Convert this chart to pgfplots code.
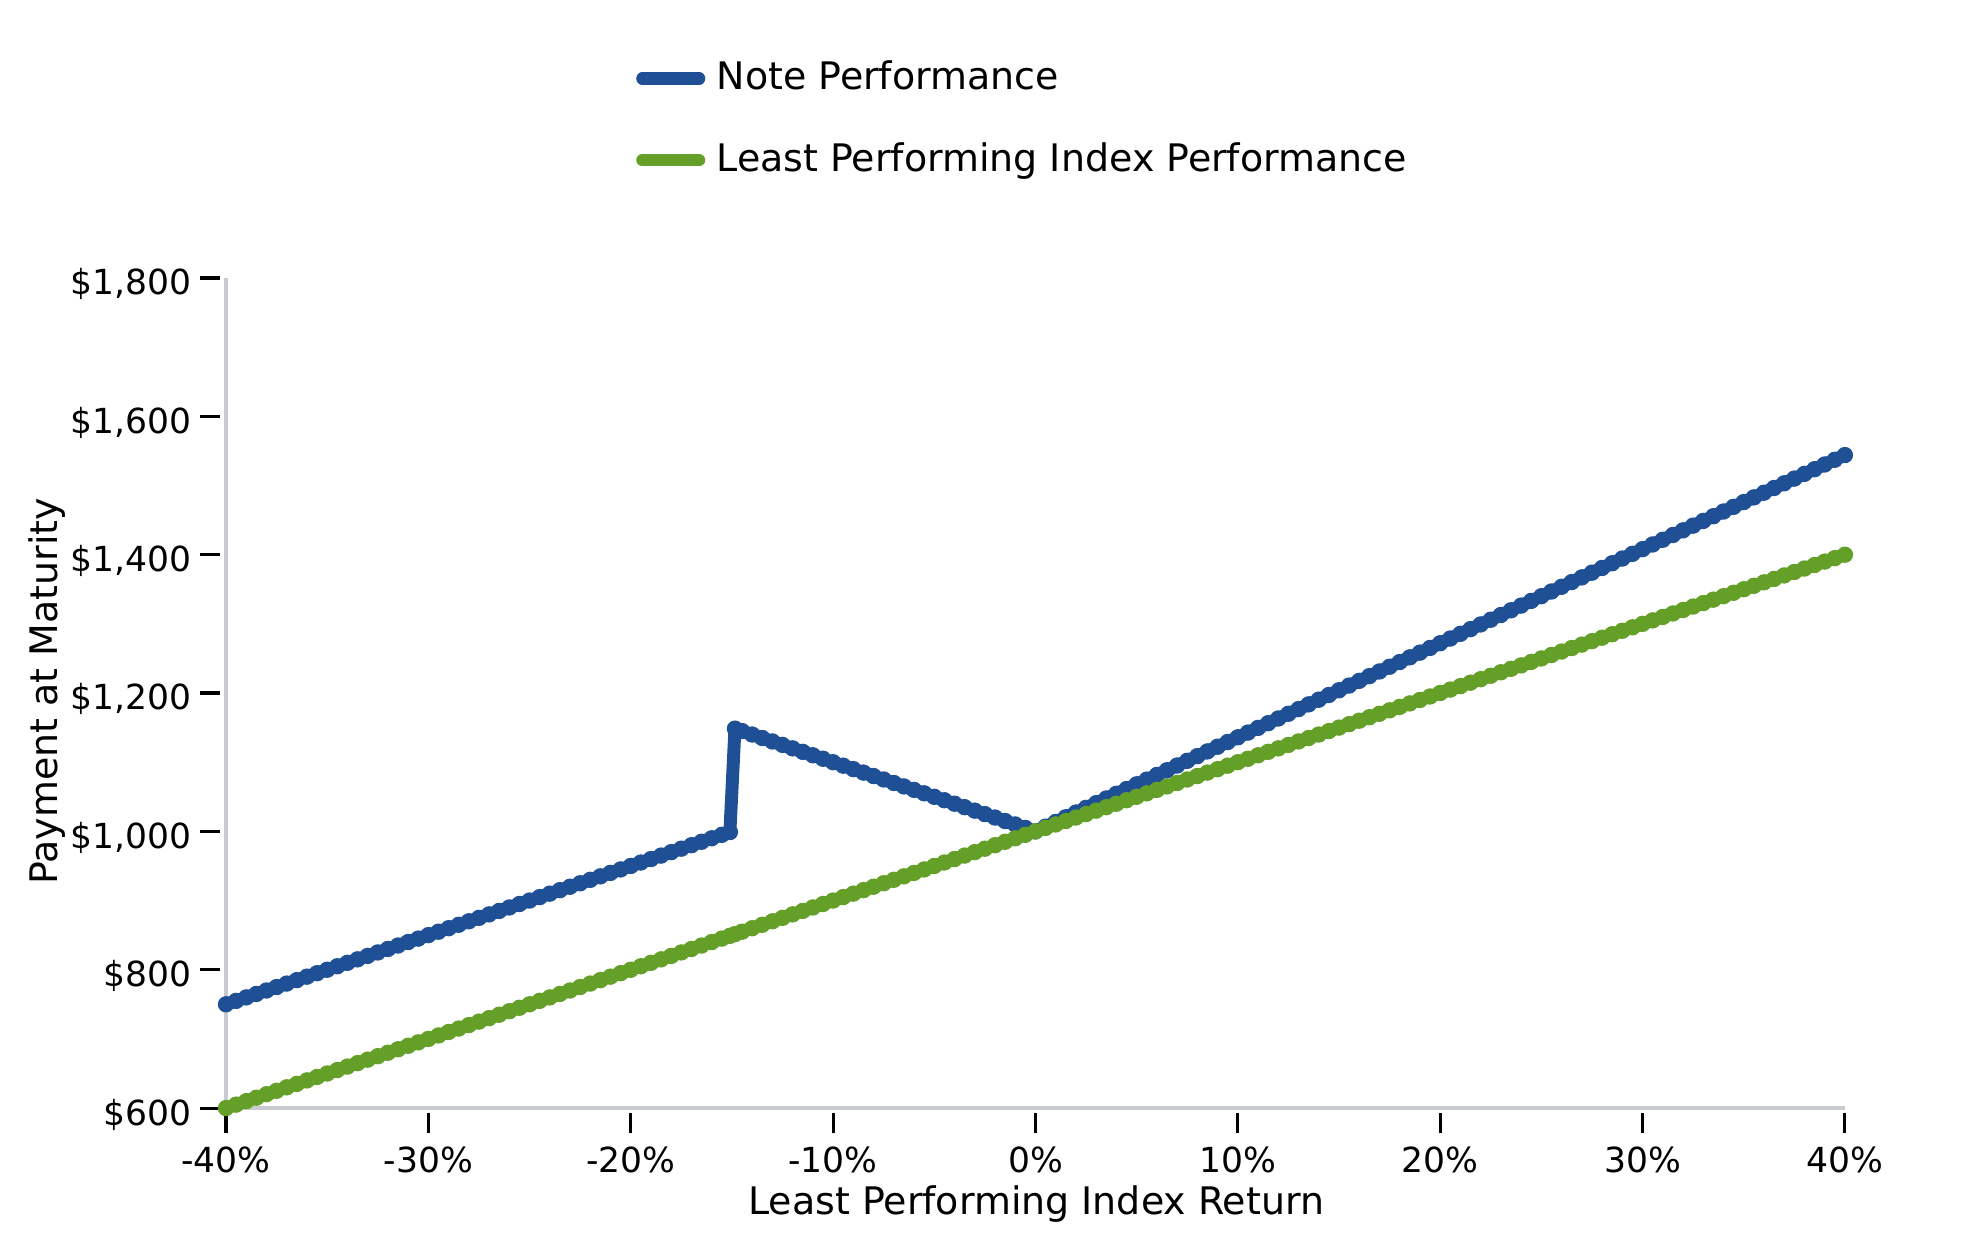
\documentclass[border=0pt]{standalone}
\usepackage{fontspec}
\setmainfont{DejaVu Sans}
\usepackage{pgfplots}
\usepackage{pgfplotstable}
\pgfplotsset{compat=1.18}
\definecolor{noteblue}{RGB}{31,80,150}
\definecolor{idxgreen}{RGB}{100,160,40}
\definecolor{spinegray}{RGB}{200,204,209}
\pgfplotstableread{
x note idx
-40 750 600
-39.5 755 605
-39 760 610
-38.5 765 615
-38 770 620
-37.5 775 625
-37 780 630
-36.5 785 635
-36 790 640
-35.5 795 645
-35 800 650
-34.5 805 655
-34 810 660
-33.5 815 665
-33 820 670
-32.5 825 675
-32 830 680
-31.5 835 685
-31 840 690
-30.5 845 695
-30 850 700
-29.5 855 705
-29 860 710
-28.5 865 715
-28 870 720
-27.5 875 725
-27 880 730
-26.5 885 735
-26 890 740
-25.5 895 745
-25 900 750
-24.5 905 755
-24 910 760
-23.5 915 765
-23 920 770
-22.5 925 775
-22 930 780
-21.5 935 785
-21 940 790
-20.5 945 795
-20 950 800
-19.5 955 805
-19 960 810
-18.5 965 815
-18 970 820
-17.5 975 825
-17 980 830
-16.5 985 835
-16 990 840
-15.5 995 845
-15.1 999 849
-14.85 1148.5 851.5
-14.5 1145 855
-14 1140 860
-13.5 1135 865
-13 1130 870
-12.5 1125 875
-12 1120 880
-11.5 1115 885
-11 1110 890
-10.5 1105 895
-10 1100 900
-9.5 1095 905
-9 1090 910
-8.5 1085 915
-8 1080 920
-7.5 1075 925
-7 1070 930
-6.5 1065 935
-6 1060 940
-5.5 1055 945
-5 1050 950
-4.5 1045 955
-4 1040 960
-3.5 1035 965
-3 1030 970
-2.5 1025 975
-2 1020 980
-1.5 1015 985
-1 1010 990
-0.5 1005 995
0 1000 1000
0.5 1006.8 1005
1 1013.6 1010
1.5 1020.4 1015
2 1027.2 1020
2.5 1034 1025
3 1040.8 1030
3.5 1047.6 1035
4 1054.4 1040
4.5 1061.2 1045
5 1068 1050
5.5 1074.8 1055
6 1081.6 1060
6.5 1088.4 1065
7 1095.2 1070
7.5 1102 1075
8 1108.8 1080
8.5 1115.6 1085
9 1122.4 1090
9.5 1129.2 1095
10 1136 1100
10.5 1142.8 1105
11 1149.6 1110
11.5 1156.4 1115
12 1163.2 1120
12.5 1170 1125
13 1176.8 1130
13.5 1183.6 1135
14 1190.4 1140
14.5 1197.2 1145
15 1204 1150
15.5 1210.8 1155
16 1217.6 1160
16.5 1224.4 1165
17 1231.2 1170
17.5 1238 1175
18 1244.8 1180
18.5 1251.6 1185
19 1258.4 1190
19.5 1265.2 1195
20 1272 1200
20.5 1278.8 1205
21 1285.6 1210
21.5 1292.4 1215
22 1299.2 1220
22.5 1306 1225
23 1312.8 1230
23.5 1319.6 1235
24 1326.4 1240
24.5 1333.2 1245
25 1340 1250
25.5 1346.8 1255
26 1353.6 1260
26.5 1360.4 1265
27 1367.2 1270
27.5 1374 1275
28 1380.8 1280
28.5 1387.6 1285
29 1394.4 1290
29.5 1401.2 1295
30 1408 1300
30.5 1414.8 1305
31 1421.6 1310
31.5 1428.4 1315
32 1435.2 1320
32.5 1442 1325
33 1448.8 1330
33.5 1455.6 1335
34 1462.4 1340
34.5 1469.2 1345
35 1476 1350
35.5 1482.8 1355
36 1489.6 1360
36.5 1496.4 1365
37 1503.2 1370
37.5 1510 1375
38 1516.8 1380
38.5 1523.6 1385
39 1530.4 1390
39.5 1537.2 1395
40 1544 1400
}\datatable
\begin{document}
\begin{tikzpicture}[font=\fontsize{12.3pt}{14.5pt}\selectfont]
\path[use as bounding box] (0,0) rectangle (641.8pt,405.4pt);
\begin{axis}[
  at={(73.3pt,46.05pt)}, anchor=south west,
  scale only axis, width=525pt, height=269.2pt,
  xmin=-40, xmax=40, ymin=600, ymax=1800,
  axis x line*=bottom, axis y line*=left,
  axis line style={spinegray, line width=1.4pt},
  clip=false,
  xtick={-40,-30,-20,-10,0,10,20,30,40},
  xticklabels={-40\%,-30\%,-20\%,-10\%,0\%,10\%,20\%,30\%,40\%},
  ytick={600,800,1000,1200,1400,1600,1800},
  yticklabels={{\$600},{\$800},{\$1,000},{\$1,200},{\$1,400},{\$1,600},{\$1,800}},
  tick align=outside,
  major tick length=6.5pt,
  every tick/.style={black, line width=1pt},
  xtick style={yshift=-1.7pt},
  ytick style={xshift=-1.95pt},
  tick label style={font=\fontsize{11.2pt}{13pt}\selectfont, inner sep=0pt, text height=0.729em, text depth=0pt},
  xticklabel style={anchor=north, yshift=-6.8pt},
  yticklabel style={anchor=east, xshift=-4.44pt, yshift=-1.85pt},
  xlabel={Least Performing Index Return},
  ylabel={Payment at Maturity},
  xlabel style={at={(axis description cs:0.5005,-0.116)}, anchor=center, inner sep=0pt, font=\fontsize{12.3pt}{14.5pt}\selectfont},
  ylabel style={at={(axis description cs:-0.1106,0.502)}, anchor=center, inner sep=0pt, font=\fontsize{12.3pt}{14.5pt}\selectfont},
  legend cell align=left,
  legend style={at={(axis description cs:0.253,1.2546)}, anchor=north west,
    draw=none, fill=none, inner sep=0pt, row sep=19.2pt,
    font=\fontsize{12.3pt}{14.5pt}\selectfont,
    nodes={inner sep=0pt, text height=0.729em, text depth=0pt},
    /tikz/every odd column/.append style={column sep=3.7pt}},
  legend image code/.code={\draw[#1, line width=3.9pt, line cap=round] (0pt,0pt) -- (18.5pt,0pt);},
]
\addplot[draw=noteblue, line width=4.2pt, line join=round, no marks] table[x=x, y=note] {\datatable};
\addlegendentry{Note Performance}
\addplot[noteblue, only marks, mark=*, mark size=2.5pt, line width=0.3pt, mark options={fill=noteblue}, forget plot] table[x=x, y=note] {\datatable};
\addplot[draw=idxgreen, line width=4.2pt, line join=round, no marks] table[x=x, y=idx] {\datatable};
\addlegendentry{Least Performing Index Performance}
\addplot[idxgreen, only marks, mark=*, mark size=2.5pt, line width=0.3pt, mark options={fill=idxgreen}, forget plot] table[x=x, y=idx] {\datatable};
\end{axis}
\end{tikzpicture}
\end{document}
